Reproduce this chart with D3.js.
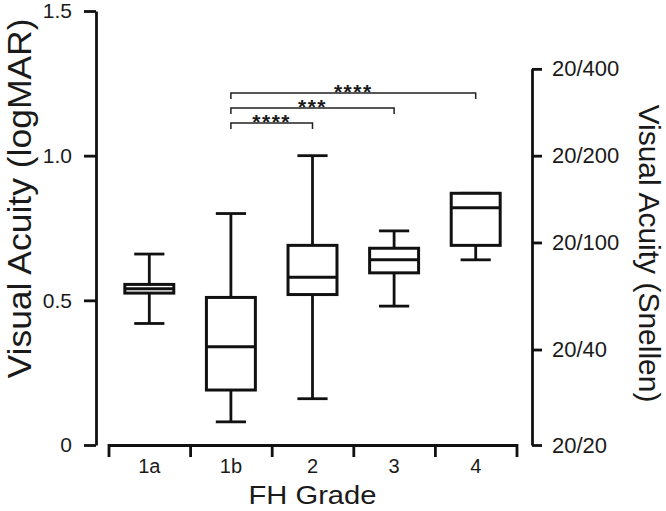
<!DOCTYPE html>
<html>
<head>
<meta charset="utf-8">
<script src="https://cdn.jsdelivr.net/npm/d3@7"></script>
<style>
body { margin: 0; background: #fff; }
text { font-family: "Liberation Sans", Arial, sans-serif; fill: #1a1a1a; }
</style>
</head>
<body>
<div id="vis"></div>
<script>
// FH grade box plots (logMAR)
var grades = ["1a", "1b", "2", "3", "4"];
var whiskerLow = [0.42, 0.08, 0.16, 0.48, 0.64];
var q1 = [0.525, 0.19, 0.52, 0.595, 0.69];
var median = [0.54, 0.34, 0.58, 0.64, 0.82];
var q3 = [0.555, 0.51, 0.69, 0.68, 0.87];
var whiskerHigh = [0.66, 0.80, 1.00, 0.74, 0.87];

var leftTicks = [0, 0.5, 1.0, 1.5];
var leftTickLabels = ["0", "0.5", "1.0", "1.5"];
var snellenLabels = ["20/20", "20/40", "20/100", "20/200", "20/400"];
var snellenLogMAR = [0, 0.33, 0.70, 1.00, 1.30];

var compareFrom = ["1b", "1b", "1b"];
var compareTo = ["2", "3", "4"];
var compareStars = ["****", "***", "****"];

var W = 666, H = 511;
var ink = "#111";

var svg = d3.select("#vis").append("svg")
    .attr("width", W)
    .attr("height", H);

var y = d3.scaleLinear().domain([0, 1.5]).range([445, 11]);
var ySn = d3.scaleLinear().domain([0, 1.30]).range([y(0), y(1.30)]);
var x = d3.scaleBand().domain(grades).range([108.5, 516.5]).padding(0);
var xEdge = d3.scaleLinear().domain([0, grades.length]).range(x.range());

// left axis
var yAxis = d3.axisLeft(y)
    .tickValues(leftTicks)
    .tickFormat(function(d, i) { return leftTickLabels[i]; })
    .tickSizeInner(12)
    .tickSizeOuter(0)
    .tickPadding(12);
var gy = svg.append("g")
    .attr("transform", "translate(96,0)")
    .attr("color", ink)
    .call(yAxis)
    .attr("font-size", 21);
gy.selectAll("path, line").attr("stroke-width", 2.8);

// right axis (Snellen)
var snAxis = d3.axisRight(ySn)
    .tickValues(snellenLogMAR)
    .tickFormat(function(d, i) { return snellenLabels[i]; })
    .tickSizeInner(10)
    .tickSizeOuter(0)
    .tickPadding(10);
var gs = svg.append("g")
    .attr("transform", "translate(532,0)")
    .attr("color", ink)
    .call(snAxis)
    .attr("font-size", 22);
gs.selectAll("path, line").attr("stroke-width", 2.8);

// x axis: labels + end brackets, then category separators
var xAxis = d3.axisBottom(x)
    .tickSizeInner(0)
    .tickSizeOuter(12)
    .tickPadding(13.5);
var gx = svg.append("g")
    .attr("transform", "translate(0," + y(0) + ")")
    .attr("color", ink)
    .call(xAxis)
    .attr("font-size", 20);
gx.selectAll("path, line").attr("stroke-width", 2.8);

var sepAxis = d3.axisBottom(xEdge)
    .tickValues(d3.range(1, grades.length))
    .tickFormat("")
    .tickSizeInner(12)
    .tickSizeOuter(0);
var gsep = svg.append("g")
    .attr("transform", "translate(0," + y(0) + ")")
    .attr("color", ink)
    .call(sepAxis);
gsep.select(".domain").remove();
gsep.selectAll("line").attr("stroke-width", 2.8);

// boxes
var boxW = x.bandwidth() * 0.6;
var capW = x.bandwidth() * 0.37;
var boxes = svg.append("g").attr("stroke", ink).attr("fill", "none");

grades.forEach(function(g, i) {
    var cx = x(g) + x.bandwidth() / 2;
    var b = boxes.append("g");
    // whiskers
    b.append("line").attr("x1", cx).attr("x2", cx)
        .attr("y1", y(q3[i])).attr("y2", y(whiskerHigh[i]))
        .attr("stroke-width", 2.8);
    b.append("line").attr("x1", cx).attr("x2", cx)
        .attr("y1", y(q1[i])).attr("y2", y(whiskerLow[i]))
        .attr("stroke-width", 2.8);
    b.append("line").attr("x1", cx - capW / 2).attr("x2", cx + capW / 2)
        .attr("y1", y(whiskerHigh[i])).attr("y2", y(whiskerHigh[i]))
        .attr("stroke-width", 2.8);
    b.append("line").attr("x1", cx - capW / 2).attr("x2", cx + capW / 2)
        .attr("y1", y(whiskerLow[i])).attr("y2", y(whiskerLow[i]))
        .attr("stroke-width", 2.8);
    // box
    b.append("rect")
        .attr("x", cx - boxW / 2)
        .attr("y", y(q3[i]))
        .attr("width", boxW)
        .attr("height", y(q1[i]) - y(q3[i]))
        .attr("fill", "#fff")
        .attr("stroke-width", 3);
    b.append("line").attr("x1", cx - boxW / 2).attr("x2", cx + boxW / 2)
        .attr("y1", y(median[i])).attr("y2", y(median[i]))
        .attr("stroke-width", 3);
});

// significance brackets
var sig = svg.append("g");
var levelBase = 123, levelStep = 15, drop = 6;
compareFrom.forEach(function(f, i) {
    var x1 = x(f) + x.bandwidth() / 2;
    var x2 = x(compareTo[i]) + x.bandwidth() / 2;
    var ly = levelBase - i * levelStep;
    sig.append("path")
        .attr("d", "M" + x1 + "," + (ly + drop) + "V" + ly + "H" + x2 + "V" + (ly + drop))
        .attr("fill", "none")
        .attr("stroke", "#222")
        .attr("stroke-width", 1.5);
    sig.append("text")
        .attr("x", (x1 + x2) / 2)
        .attr("y", ly + 5.5)
        .attr("text-anchor", "middle")
        .attr("font-size", 21)
        .attr("font-weight", "bold")
        .attr("letter-spacing", 1.5)
        .text(compareStars[i]);
});

// axis titles
svg.append("text")
    .attr("transform", "translate(31,198.5) rotate(-90)")
    .attr("text-anchor", "middle")
    .attr("font-size", 34)
    .attr("textLength", 360)
    .attr("lengthAdjust", "spacingAndGlyphs")
    .text("Visual Acuity (logMAR)");

svg.append("text")
    .attr("transform", "translate(638.5,253.5) rotate(90)")
    .attr("text-anchor", "middle")
    .attr("font-size", 30)
    .text("Visual Acuity (Snellen)");

svg.append("text")
    .attr("x", (x.range()[0] + x.range()[1]) / 2)
    .attr("y", 504)
    .attr("text-anchor", "middle")
    .attr("font-size", 26)
    .attr("textLength", 128)
    .attr("lengthAdjust", "spacingAndGlyphs")
    .text("FH Grade");
</script>
</body>
</html>
